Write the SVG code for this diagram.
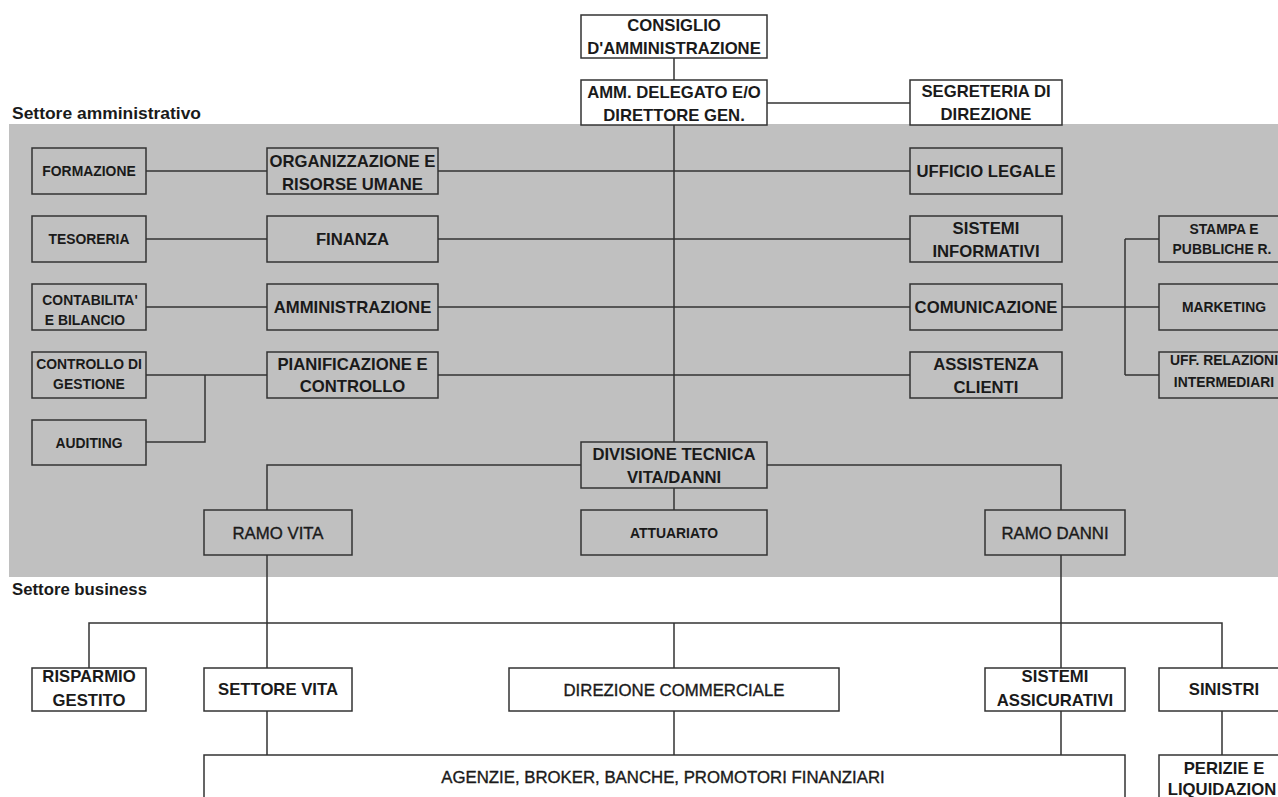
<svg xmlns="http://www.w3.org/2000/svg" width="1278" height="797" viewBox="0 0 1278 797">
<style>
  .bx{stroke:#333;stroke-width:1.5;fill:none}
  .wb{stroke:#333;stroke-width:1.5;fill:#fff}
  .cn{stroke:#333;stroke-width:1.5;fill:none}
  text{font-family:"Liberation Sans",Arial,sans-serif;fill:#1a1a1a;text-anchor:middle}
  .b{font-size:16.7px;font-weight:bold}
  .r{font-size:16.8px;font-weight:normal;stroke:#1a1a1a;stroke-width:0.35}
  .s{font-size:13.9px;font-weight:bold}
  .sec{font-size:16px;font-weight:bold;text-anchor:start}
</style>
<rect x="0" y="0" width="1278" height="797" fill="#fff"/>
<rect x="9" y="124" width="1269" height="453" fill="#c0c0c0"/>
<text class="sec" x="12" y="119" textLength="189" lengthAdjust="spacingAndGlyphs">Settore amministrativo</text>
<text class="sec" x="12" y="595" textLength="135" lengthAdjust="spacingAndGlyphs">Settore business</text>
<g id="connectors">
  <path class="cn" d="M674,58 V80 M767,103 H910 M674,125 V442"/>
  <path class="cn" d="M146,171 H267 M438,171 H910 M146,239 H267 M438,239 H910 M146,307 H267 M438,307 H910 M146,375 H267 M438,375 H910 M205,375 V442 H146"/>
  <path class="cn" d="M1062,307 H1159 M1125,239 V375 M1125,239 H1159 M1125,375 H1159"/>
  <path class="cn" d="M581,465 H267 V510 M767,465 H1061 V510 M674,488 V510"/>
  <path class="cn" d="M267,555 V668 M1061,555 V668 M89,668 V623 H1222 V668 M674,623 V668"/>
  <path class="cn" d="M267,711 V755 M674,711 V755 M1061,711 V755 M1222,711 V755"/>
</g>
<g id="consiglio"><rect class="wb" x="581" y="15" width="186" height="43"/><text class="b" x="674" y="31">CONSIGLIO</text><text class="b" x="674" y="54">D'AMMINISTRAZIONE</text></g>
<g id="amm-delegato"><rect class="wb" x="581" y="80" width="186" height="45"/><text class="b" x="674" y="98">AMM. DELEGATO E/O</text><text class="b" x="674" y="121">DIRETTORE GEN.</text></g>
<g id="segreteria"><rect class="wb" x="910" y="80" width="152" height="45"/><text class="b" x="986" y="97">SEGRETERIA DI</text><text class="b" x="986" y="120">DIREZIONE</text></g>
<g id="formazione"><rect class="bx" x="32" y="148" width="114" height="46"/><text class="s" x="89" y="176">FORMAZIONE</text></g>
<g id="organizzazione"><rect class="bx" x="267" y="148" width="171" height="46"/><text class="b" x="352.5" y="166.5">ORGANIZZAZIONE E</text><text class="b" x="352.5" y="189.5">RISORSE UMANE</text></g>
<g id="ufficio-legale"><rect class="bx" x="910" y="148" width="152" height="46"/><text class="b" x="986" y="177">UFFICIO LEGALE</text></g>
<g id="tesoreria"><rect class="bx" x="32" y="216" width="114" height="46"/><text class="s" x="89" y="244">TESORERIA</text></g>
<g id="finanza"><rect class="bx" x="267" y="216" width="171" height="46"/><text class="b" x="352.5" y="245">FINANZA</text></g>
<g id="sistemi-informativi"><rect class="bx" x="910" y="216" width="152" height="46"/><text class="b" x="986" y="234">SISTEMI</text><text class="b" x="986" y="256.5">INFORMATIVI</text></g>
<g id="stampa"><rect class="bx" x="1159" y="216" width="140" height="46"/><text class="s" x="1224" y="233.5">STAMPA E</text><text class="s" x="1222" y="253.5">PUBBLICHE R.</text></g>
<g id="contabilita"><rect class="bx" x="32" y="284" width="114" height="46"/><text class="s" x="90" y="304.5">CONTABILITA'</text><text class="s" x="85" y="325">E BILANCIO</text></g>
<g id="amministrazione"><rect class="bx" x="267" y="284" width="171" height="46"/><text class="b" x="352.5" y="313">AMMINISTRAZIONE</text></g>
<g id="comunicazione"><rect class="bx" x="910" y="284" width="152" height="46"/><text class="b" x="986" y="312.5">COMUNICAZIONE</text></g>
<g id="marketing"><rect class="bx" x="1159" y="284" width="140" height="46"/><text class="s" x="1224" y="311.5">MARKETING</text></g>
<g id="controllo-gestione"><rect class="bx" x="32" y="352" width="114" height="46"/><text class="s" x="89" y="368.5">CONTROLLO DI</text><text class="s" x="89" y="389">GESTIONE</text></g>
<g id="pianificazione"><rect class="bx" x="267" y="352" width="171" height="46"/><text class="b" x="352.5" y="369.5">PIANIFICAZIONE E</text><text class="b" x="352.5" y="391.5">CONTROLLO</text></g>
<g id="assistenza"><rect class="bx" x="910" y="352" width="152" height="46"/><text class="b" x="986" y="370">ASSISTENZA</text><text class="b" x="986" y="392.5">CLIENTI</text></g>
<g id="uff-relazioni"><rect class="bx" x="1159" y="352" width="140" height="46"/><text class="s" x="1224" y="365">UFF. RELAZIONI</text><text class="s" x="1224" y="386.5">INTERMEDIARI</text></g>
<g id="auditing"><rect class="bx" x="32" y="420" width="114" height="45"/><text class="s" x="89" y="447.5">AUDITING</text></g>
<g id="divisione-tecnica"><rect class="bx" x="581" y="442" width="186" height="46"/><text class="b" x="674" y="460">DIVISIONE TECNICA</text><text class="b" x="674" y="482.5">VITA/DANNI</text></g>
<g id="ramo-vita"><rect class="bx" x="204" y="510" width="148" height="45"/><text class="r" x="278" y="538.5">RAMO VITA</text></g>
<g id="attuariato"><rect class="bx" x="581" y="510" width="186" height="45"/><text class="s" x="674" y="537.5">ATTUARIATO</text></g>
<g id="ramo-danni"><rect class="bx" x="985" y="510" width="140" height="45"/><text class="r" x="1055" y="538.5">RAMO DANNI</text></g>
<g id="risparmio"><rect class="wb" x="32" y="668" width="114" height="43"/><text class="b" x="89" y="682">RISPARMIO</text><text class="b" x="89" y="705.5">GESTITO</text></g>
<g id="settore-vita"><rect class="wb" x="204" y="668" width="148" height="43"/><text class="b" x="278" y="695">SETTORE VITA</text></g>
<g id="direzione-commerciale"><rect class="wb" x="509" y="668" width="330" height="43"/><text class="r" x="674" y="695.5">DIREZIONE COMMERCIALE</text></g>
<g id="sistemi-assicurativi"><rect class="wb" x="985" y="668" width="140" height="43"/><text class="b" x="1055" y="681.5">SISTEMI</text><text class="b" x="1055" y="705.5">ASSICURATIVI</text></g>
<g id="sinistri"><rect class="wb" x="1159" y="668" width="140" height="43"/><text class="b" x="1224" y="695">SINISTRI</text></g>
<g id="agenzie"><rect class="wb" x="204" y="755" width="921" height="60"/><text class="r" x="663" y="783">AGENZIE, BROKER, BANCHE, PROMOTORI FINANZIARI</text></g>
<g id="perizie"><rect class="wb" x="1159" y="755" width="140" height="60"/><text class="b" x="1224" y="773.5">PERIZIE E</text><text class="b" x="1222" y="795">LIQUIDAZION</text></g>
</svg>
